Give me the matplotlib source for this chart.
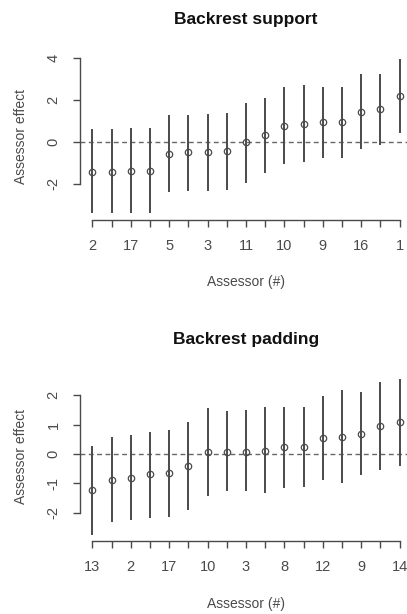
import matplotlib
matplotlib.use("Agg")
import matplotlib.pyplot as plt
import numpy as np

plt.rcParams["font.family"] = ["Liberation Sans", "DejaVu Sans"]

# Backrest support: assessors sorted by effect
support_labels = ["2", "", "17", "", "5", "", "3", "", "11", "", "10", "", "9", "", "16", "", "1"]
support_effect = [-1.43, -1.43, -1.38, -1.38, -0.59, -0.51, -0.51, -0.46, -0.03,
                  0.32, 0.76, 0.87, 0.92, 0.92, 1.44, 1.57, 2.19]
support_lower = [-3.41, -3.41, -3.41, -3.41, -2.41, -2.33, -2.33, -2.30, -1.95,
                 -1.51, -1.08, -0.95, -0.79, -0.79, -0.35, -0.16, 0.40]
support_upper = [0.63, 0.63, 0.67, 0.67, 1.27, 1.27, 1.30, 1.35, 1.87,
                 2.10, 2.59, 2.70, 2.59, 2.59, 3.22, 3.25, 3.95]
support_yticks = [-2, 0, 2, 4]

# Backrest padding
padding_labels = ["13", "", "2", "", "17", "", "10", "", "3", "", "8", "", "12", "", "9", "", "14"]
padding_effect = [-1.23, -0.89, -0.83, -0.69, -0.66, -0.41, 0.06, 0.08, 0.08,
                  0.11, 0.25, 0.25, 0.56, 0.59, 0.68, 0.95, 1.08]
padding_lower = [-2.76, -2.31, -2.27, -2.19, -2.17, -1.91, -1.42, -1.28, -1.28,
                 -1.34, -1.17, -1.14, -0.89, -1.00, -0.72, -0.55, -0.40]
padding_upper = [0.28, 0.59, 0.65, 0.76, 0.82, 1.08, 1.56, 1.48, 1.50,
                 1.61, 1.61, 1.61, 1.98, 2.18, 2.13, 2.47, 2.56]
padding_yticks = [-2, -1, 0, 1, 2]

W, H = 407, 614
LINE = "#4a4a4a"
TEXT = "#4a4a4a"


def r_limits(lo, hi):
    pad = (hi - lo) * 0.04
    return lo - pad, hi + pad


def draw_panel(rect_px, title, labels, effect, lower, upper, yticks):
    left, top, right, bottom = rect_px
    fig = plt.gcf()
    ax = fig.add_axes([left / W, 1 - bottom / H, (right - left) / W, (bottom - top) / H])
    x = np.arange(1, len(effect) + 1)

    ax.vlines(x, lower, upper, color=LINE, linewidth=1.4)
    ax.plot(x, effect, linestyle="none", marker="o", markersize=4.6,
            markerfacecolor="none", markeredgecolor=LINE, markeredgewidth=0.9, zorder=3)
    ax.axhline(0, color="#666666", linestyle=(0, (3.5, 2.5)), linewidth=1.0, zorder=1)

    ax.set_xlim(*r_limits(1, len(effect)))
    ax.set_ylim(*r_limits(min(lower), max(upper)))

    for side in ["top", "right"]:
        ax.spines[side].set_visible(False)
    ax.spines["left"].set_bounds(yticks[0], yticks[-1])
    ax.spines["bottom"].set_bounds(1, len(effect))
    for side in ["left", "bottom"]:
        ax.spines[side].set_color(LINE)
        ax.spines[side].set_linewidth(1.0)

    ax.set_xticks(x)
    ax.set_xticklabels(labels)
    ax.set_yticks(yticks)
    ax.set_yticklabels([str(t) for t in yticks], rotation=90, va="center")
    ax.tick_params(direction="out", length=5, width=1.0, color=LINE,
                   labelcolor=TEXT, labelsize=10.5)
    ax.tick_params(axis="x", pad=9)
    ax.tick_params(axis="y", pad=9)

    ax.set_title(title, fontsize=12.5, fontweight="bold", color="#111111", pad=21)
    ax.set_xlabel("Assessor (#)", fontsize=10, color=TEXT, labelpad=16)
    ax.set_ylabel("Assessor effect", fontsize=10, color=TEXT, labelpad=13.5)
    return ax


fig = plt.figure(figsize=(W / 100, H / 100), dpi=100)
draw_panel((80, 52.7, 412, 219.5), "Backrest support",
           support_labels, support_effect, support_lower, support_upper, support_yticks)
draw_panel((80, 372.8, 412, 541), "Backrest padding",
           padding_labels, padding_effect, padding_lower, padding_upper, padding_yticks)

fig.savefig("out.png", dpi=100, facecolor="white")
